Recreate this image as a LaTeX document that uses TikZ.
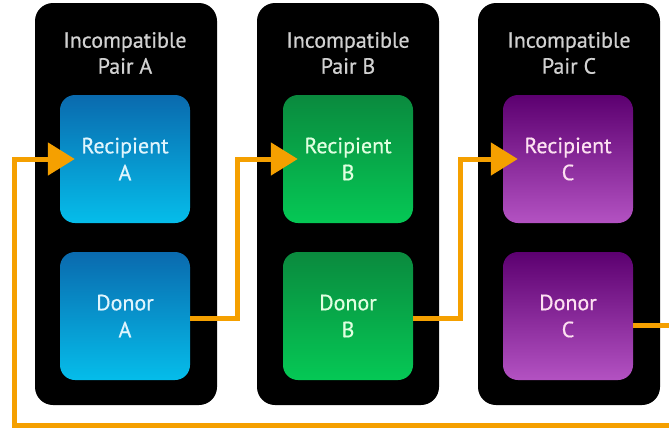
\documentclass[tikz,border=0pt]{standalone}
\usepackage{fontspec}
\setmainfont[FakeBold=0.6]{PT Sans}
\usetikzlibrary{arrows.meta}
\definecolor{arrorange}{HTML}{F5A000}
\definecolor{blueT}{HTML}{0A6AAE}
\definecolor{blueB}{HTML}{05BDEA}
\definecolor{greenT}{HTML}{0A8A3E}
\definecolor{greenB}{HTML}{05C855}
\definecolor{purpT}{HTML}{5C0070}
\definecolor{purpB}{HTML}{B352C2}
\tikzset{
  panel/.style={fill=black, rounded corners=18pt, minimum width=182pt, minimum height=402pt, inner sep=0pt},
  ptitle/.style={text=white!82!black, font=\fontsize{22}{26}\selectfont, align=center},
  card/.style={rounded corners=15pt, minimum width=130pt, minimum height=128pt, inner sep=0pt,
    font=\fontsize{22}{27}\selectfont, align=center},
  bluecard/.style={card, top color=blueT, bottom color=blueB, text=white!88!cyan},
  greencard/.style={card, top color=greenT, bottom color=greenB, text=white!88!green},
  purpcard/.style={card, top color=purpT, bottom color=purpB, text=white!88!magenta},
  arr/.style={draw=arrorange, line width=5pt, -{Triangle[length=27pt,width=32pt]}},
}
\begin{document}
\begin{tikzpicture}[x=1pt,y=-1pt]
\useasboundingbox (0,0) rectangle (669,432);
\clip (0,0) rectangle (669,432);
\fill[white] (0,0) rectangle (669,432);
% panels
\node[panel] (pA) at (126,204) {};
\node[panel] (pB) at (348,204) {};
\node[panel] (pC) at (569,204) {};
\node[ptitle] (tA) at (125,53) {Incompatible\\Pair A};
\node[ptitle] (tB) at (348,53) {Incompatible\\Pair B};
\node[ptitle] (tC) at (569,53) {Incompatible\\Pair C};
% cards
\node[bluecard] (rA) at (125,159) {Recipient\\A};
\node[bluecard] (dA) at (125,316) {Donor\\A};
\node[greencard] (rB) at (348,159) {Recipient\\B};
\node[greencard] (dB) at (348,316) {Donor\\B};
\node[purpcard] (rC) at (568,159) {Recipient\\C};
\node[purpcard] (dC) at (568,316) {Donor\\C};
% connectors
\coordinate (jA) at (237,0);
\coordinate (jB) at (460,0);
\coordinate (rgt) at (680,0);
\coordinate (lft) at (14,425);
\draw[arr] ([yshift=-2pt]dA.east) -- ([yshift=-2pt]dA.east -| jA) |- ([xshift=15pt]rB.west);
\draw[arr] ([yshift=-2pt]dB.east) -- ([yshift=-2pt]dB.east -| jB) |- ([xshift=15pt]rC.west);
\draw[arr] ([yshift=-9pt]dC.east) -- ([yshift=-9pt]dC.east -| rgt) |- (lft) |- ([xshift=15pt]rA.west);
\end{tikzpicture}
\end{document}
